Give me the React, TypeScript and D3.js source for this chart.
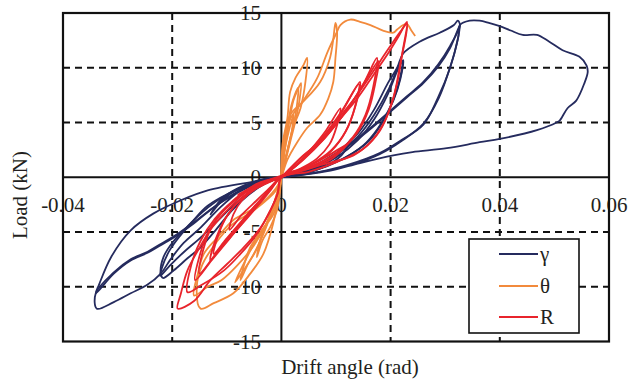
import React from "react";
import * as d3 from "d3";

type P = [number, number];

// ---- data (drift angle rad, load kN) ----
const xTicks = [-0.04, -0.02, 0, 0.02, 0.04, 0.06];
const xTickLabels = ["-0.04", "-0.02", "0", "0.02", "0.04", "0.06"];
const yTicks = [15, 10, 5, 0, -5, -10, -15];
const yTickLabels = ["15", "10", "5", "0", "-5", "-10", "-15"];
const xGrid = [-0.02, 0.02, 0.04];
const yGrid = [10, 5, -5, -10];
const seriesNames = ["γ", "θ", "R"];

// γ series loops
const gammaSmall: P[] = [[0,0],[0.004,0.4],[0.008,1.2],[0.011,2.4],[0.013,3.6],[0.011,2.0],[0.008,1.0],[0.004,0.3],[0,0],[-0.004,-0.4],[-0.008,-1.1],[-0.011,-2.2],[-0.013,-3.4],[-0.011,-2.0],[-0.008,-1.0],[-0.004,-0.3],[0,0]];
const gamma22: P[] = [[0,0],[0.005,0.6],[0.010,1.8],[0.014,3.4],[0.017,5.3],[0.0195,7.6],[0.0213,9.8],[0.0223,10.7],[0.0218,9.0],[0.0205,7.0],[0.0185,5.0],[0.016,3.3],[0.012,1.9],[0.007,0.8],[0.003,0.2],[0,0],
  [-0.004,-0.4],[-0.008,-1.1],[-0.0135,-2.6],[-0.0166,-4.2],[-0.0197,-5.8],[-0.0216,-7.3],[-0.0221,-8.8],[-0.0217,-9.2],[-0.0197,-8.5],[-0.0172,-7.4],[-0.0148,-6.4],[-0.012,-4.8],[-0.009,-3.0],[-0.006,-1.6],[-0.003,-0.6],[0,0]];
const gamma22b: P[] = [[0,0],[0.005,0.7],[0.010,2.0],[0.014,3.7],[0.017,5.7],[0.0197,8.1],[0.0215,10.2],[0.0221,10.5],[0.0214,8.4],[0.0198,6.3],[0.0176,4.4],[0.015,2.9],[0.011,1.6],[0.006,0.6],[0,0],
  [-0.005,-0.6],[-0.010,-1.6],[-0.0145,-3.2],[-0.0178,-4.9],[-0.0205,-6.7],[-0.0219,-8.3],[-0.0222,-9.0],[-0.0203,-8.0],[-0.0178,-6.8],[-0.015,-5.6],[-0.0115,-3.9],[-0.008,-2.2],[-0.004,-0.8],[0,0]];
const gammaEnv: P[] = [[0,0],[0.005,0.8],[0.010,2.2],[0.014,4.0],[0.017,6.2],[0.0195,8.6],[0.0212,10.0],[0.0223,11.3],[0.0254,12.4],[0.029,13.2],[0.0316,13.9],[0.0323,14.3],[0.0327,13.9],
  [0.0309,12.0],[0.0287,10.3],[0.026,8.7],[0.023,7.4],[0.020,6.1],[0.017,4.8],[0.013,3.2],[0.009,1.9],[0.005,0.8],[0,0],
  [-0.005,-0.4],[-0.0135,-1.2],[-0.0184,-2.1],[-0.0234,-3.3],[-0.0276,-4.85],[-0.0312,-7.3],[-0.0334,-9.8],[-0.034,-10.6],
  [-0.0307,-8.8],[-0.0276,-7.6],[-0.0245,-6.9],[-0.0221,-6.2],[-0.0197,-5.5],[-0.016,-4.2],[-0.012,-2.6],[-0.008,-1.3],[-0.004,-0.4],[0,0]];
const gammaCycle2: P[] = [[0,0],[0.006,0.4],[0.012,1.1],[0.018,2.2],[0.022,3.4],[0.026,4.8],[0.0287,7.3],[0.0309,10.0],[0.0323,12.6],[0.0327,13.9],
  [0.0309,11.8],[0.0287,10.1],[0.026,8.6],[0.023,7.3],[0.020,6.0],[0.017,4.7],[0.013,3.1],[0.009,1.8],[0.005,0.7],[0,0],
  [-0.004,-0.5],[-0.008,-1.4],[-0.012,-2.6],[-0.016,-4.1],[-0.0197,-5.4],[-0.0221,-6.1],[-0.0245,-6.8],[-0.0276,-7.5],[-0.0307,-8.7],[-0.034,-10.6],[-0.0338,-12.0],
  [-0.0307,-11.4],[-0.0276,-10.6],[-0.0245,-9.8],[-0.0221,-8.8],[-0.0203,-7.5],[-0.0179,-6.0],[-0.0148,-4.6],[-0.0111,-2.7],[-0.0075,-1.2],[-0.0044,-0.3],[0,0]];
const gammaFinal: P[] = [[0,0],[0.006,0.4],[0.012,1.0],[0.018,2.1],[0.022,3.3],[0.026,4.9],[0.0288,7.2],[0.031,10.2],[0.0324,12.8],[0.0327,13.9],[0.0345,14.3],[0.0363,14.3],[0.038,14.1],[0.040,13.8],[0.042,13.4],[0.0442,13.0],[0.0468,13.0],[0.049,12.4],[0.0515,11.6],[0.0546,11.0],[0.0559,10.2],[0.0561,9.6],[0.0555,8.6],[0.054,7.0],[0.0524,6.3],[0.051,5.2],[0.0504,5.0],[0.0468,4.3],[0.040,3.5],[0.0363,3.2],[0.0303,2.65],[0.024,2.3],[0.0205,2.0],[0.0144,1.3],[0.009,0.6],[0.0035,0.2],[0,0]];

// θ series loops
const thetaA: P[] = [[0,0],[0.0003,1.5],[0.0008,3.0],[0.0015,4.5],[0.0022,5.7],[0.0019,4.2],[0.0012,2.6],[0.0004,0.9],[0,0],[-0.0003,-1.5],[-0.0008,-3.0],[-0.002,-4.5],[-0.0035,-5.8],[-0.0045,-7.3],[-0.0038,-5.6],[-0.0024,-3.8],[-0.001,-1.8],[0,0]];
const thetaB: P[] = [[0,0],[0.0004,2.0],[0.0011,4.5],[0.0018,6.5],[0.0025,7.6],[0.0031,8.2],[0.0029,6.8],[0.0023,5.0],[0.0013,2.8],[0.0004,0.9],[0,0],[-0.0005,-1.8],[-0.0015,-3.4],[-0.0035,-4.8],[-0.0058,-6.5],[-0.0075,-9.4],[-0.0062,-8.0],[-0.0046,-6.6],[-0.003,-4.8],[-0.0013,-2.5],[0,0]];
const thetaB2: P[] = [[0,0],[0.0006,2.4],[0.0014,5.0],[0.0022,7.0],[0.0030,8.0],[0.0036,8.6],[0.0033,7.0],[0.0026,5.2],[0.0016,3.2],[0.0006,1.2],[0,0],[-0.0007,-2.0],[-0.0022,-3.8],[-0.0042,-5.3],[-0.0062,-7.2],[-0.0085,-9.6],[-0.0068,-8.4],[-0.005,-7.0],[-0.0034,-5.2],[-0.0016,-2.8],[0,0]];
const thetaC: P[] = [[0,0],[0.0002,3.0],[0.0011,5.4],[0.0016,7.8],[0.0026,9.1],[0.004,10.2],[0.0047,10.9],[0.0044,8.7],[0.0035,6.3],[0.0022,4.6],[0.0011,2.5],[0.0002,0.6],[0,0],[-0.001,-1.0],[-0.0045,-2.7],[-0.0088,-3.9],[-0.0117,-5.5],[-0.0142,-7.0],[-0.0153,-8.8],[-0.016,-10.8],[-0.0135,-10.0],[-0.011,-9.4],[-0.008,-8.0],[-0.005,-6.2],[-0.0025,-4.0],[-0.0008,-1.8],[0,0]];
const thetaD: P[] = [[0,0],[0.0003,2.5],[0.0016,5.7],[0.004,6.9],[0.0071,8.7],[0.0089,10.9],[0.0095,12.6],[0.0099,14.1],[0.0102,13.2],[0.0099,10.9],[0.0095,8.7],[0.0086,7.2],[0.0071,5.7],[0.0047,4.5],[0.0029,3.2],[0.0011,1.6],[0,0],[-0.001,-1.2],[-0.005,-3.0],[-0.009,-4.3],[-0.012,-6.0],[-0.0145,-8.0],[-0.0155,-10.0],[-0.0148,-12.0],[-0.0124,-11.5],[-0.0088,-10.6],[-0.0057,-8.8],[-0.0033,-7.0],[-0.0015,-4.2],[-0.0007,-2.1],[0,0]];
const thetaE: P[] = [[0,0],[0.0004,2.8],[0.0016,5.3],[0.004,7.0],[0.0065,9.0],[0.0085,11.5],[0.0102,13.3],[0.0108,13.9],[0.0126,14.4],[0.0144,14.2],[0.0163,13.9],[0.0186,13.4],[0.0205,13.2],[0.0212,13.5],[0.0223,13.9],[0.023,14.0],[0.0238,13.4],[0.0245,12.9]];

// R series loops
const rSmall: P[] = [[0,0],[0.004,0.8],[0.008,1.8],[0.012,3.0],[0.009,1.6],[0.005,0.8],[0.001,0.3],[-0.004,-0.6],[-0.008,-1.6],[-0.005,-0.9],[-0.002,-0.3],[0,0]];
const rA: P[] = [[0,0],[0.003,1.2],[0.0055,2.6],[0.0082,4.3],[0.0108,6.3],[0.0101,4.6],[0.0088,3.0],[0.0065,1.7],[0.0035,0.8],[0,0.1],[-0.002,-0.9],[-0.0045,-2.1],[-0.0072,-3.4],[-0.0095,-4.8],[-0.0088,-3.4],[-0.0072,-2.1],[-0.0045,-1.0],[-0.002,-0.4],[0,0]];
const rB: P[] = [[0,0],[0.0035,1.4],[0.007,3.2],[0.0105,5.5],[0.0144,8.7],[0.0135,6.4],[0.0118,4.2],[0.0092,2.5],[0.0055,1.2],[0.002,0.4],[0,0],[-0.002,-1.1],[-0.0048,-2.6],[-0.0078,-4.3],[-0.0102,-5.7],[-0.0124,-7.0],[-0.0115,-5.2],[-0.0098,-3.4],[-0.007,-1.8],[-0.004,-0.8],[0,0]];
const rB2: P[] = [[0,0],[0.004,1.7],[0.0075,3.6],[0.011,6.0],[0.0142,8.5],[0.0131,5.8],[0.0112,3.7],[0.0085,2.1],[0.005,1.0],[0,0],[-0.0025,-1.3],[-0.0055,-3.0],[-0.0085,-4.8],[-0.011,-6.3],[-0.013,-7.6],[-0.012,-5.6],[-0.0102,-3.7],[-0.0075,-2.0],[-0.004,-0.7],[0,0]];
const rC: P[] = [[0,0],[0.004,1.6],[0.008,3.6],[0.0118,6.0],[0.015,8.5],[0.0175,10.9],[0.0168,8.2],[0.0154,5.7],[0.013,3.6],[0.0095,2.0],[0.005,0.9],[0,0.1],[-0.002,-1.2],[-0.005,-3.0],[-0.0085,-5.0],[-0.012,-7.0],[-0.015,-8.8],[-0.0143,-6.6],[-0.0125,-4.3],[-0.0095,-2.5],[-0.006,-1.2],[-0.003,-0.4],[0,0]];
const rC2: P[] = [[0,0],[0.0045,1.9],[0.0088,4.1],[0.0125,6.5],[0.0155,8.9],[0.0178,10.6],[0.0172,8.6],[0.016,6.2],[0.0138,4.0],[0.0105,2.3],[0.006,1.0],[0,0],[-0.003,-1.6],[-0.0062,-3.6],[-0.0095,-5.6],[-0.0128,-7.6],[-0.0158,-9.4],[-0.015,-7.2],[-0.0132,-4.8],[-0.0103,-2.9],[-0.0068,-1.4],[-0.0032,-0.5],[0,0]];
const rD: P[] = [[0,0],[0.004,2.0],[0.0071,3.2],[0.0102,5.0],[0.0139,7.2],[0.0168,9.3],[0.0194,11.2],[0.0215,12.9],[0.023,14.2],[0.0222,11.5],[0.0212,8.6],[0.0198,6.2],[0.0181,4.3],[0.015,2.6],[0.0102,1.4],[0.005,0.5],[0,0],[-0.0007,-1.5],[-0.0022,-3.2],[-0.0045,-5.2],[-0.0075,-7.0],[-0.0105,-8.5],[-0.0145,-9.8],[-0.0172,-10.5],[-0.0165,-8.0],[-0.0148,-5.8],[-0.0122,-3.8],[-0.009,-2.2],[-0.0055,-0.9],[0,0]];
const rE: P[] = [[0,0],[0.0035,1.7],[0.0071,3.4],[0.0105,5.4],[0.014,7.6],[0.017,9.8],[0.0197,11.8],[0.0218,13.3],[0.023,14.0],[0.0217,10.2],[0.0205,7.2],[0.0186,4.8],[0.0163,3.2],[0.0132,2.0],[0.0071,1.1],[0.002,0.3],[0,0],[-0.0007,-1.5],[-0.002,-3.0],[-0.0038,-4.6],[-0.0069,-6.4],[-0.0099,-7.9],[-0.013,-9.4],[-0.016,-11.3],[-0.019,-12.0],[-0.0184,-10.6],[-0.0172,-8.5],[-0.0153,-6.7],[-0.013,-4.8],[-0.0099,-3.0],[-0.0069,-1.5],[-0.0045,-0.6],[0,0]];

const gammaLoops = [gammaSmall, gamma22, gamma22b, gammaEnv, gammaCycle2, gammaFinal];
const thetaLoops = [thetaA, thetaB, thetaB2, thetaC, thetaD, thetaE];
const rLoops = [rSmall, rA, rB, rB2, rC, rC2, rD, rE];

const COLORS = ["#252b5e", "#f28a3c", "#e8242c"];
const FONT = "'Liberation Serif', 'Times New Roman', serif";
const TXT = "#231f20";

export default function App() {
  const W = 628, H = 380;
  const L = 63, R = 609, T = 13, B = 341.5;
  const x = d3.scaleLinear().domain([-0.04, 0.06]).range([L, R]);
  const y = d3.scaleLinear().domain([-15, 15]).range([B, T]);
  const line = d3.line<P>().x(d => x(d[0])).y(d => y(d[1])).curve(d3.curveCatmullRom.alpha(0.5));
  const groups = [gammaLoops, thetaLoops, rLoops];
  const legX = 469, legY = 239, legW = 110, legH = 94;
  const legRows = [254, 286, 317];
  return (
    <svg width={W} height={H} style={{ position: "absolute", left: 0, top: 0, background: "#fff" }} fontFamily={FONT}>
      <rect x={0} y={0} width={W} height={H} fill="#fff" />
      {xTicks.map((t, i) => (
        <text key={"xt" + i} x={x(t)} y={212} fontSize={21} textAnchor="middle" fill={TXT}>{xTickLabels[i]}</text>
      ))}
      {yTicks.map((t, i) => (
        <text key={"yt" + i} x={261} y={y(t) + 7} fontSize={21} textAnchor="end" fill={TXT}>{yTickLabels[i]}</text>
      ))}
      {xGrid.map((g, i) => (
        <line key={"xg" + i} x1={x(g)} x2={x(g)} y1={T} y2={B} stroke="#111" strokeWidth={2} strokeDasharray="7,5" />
      ))}
      {yGrid.map((g, i) => (
        <line key={"yg" + i} x1={L} x2={R} y1={y(g)} y2={y(g)} stroke="#111" strokeWidth={2} strokeDasharray="7,5" />
      ))}
      <line x1={x(0)} x2={x(0)} y1={T} y2={B} stroke="#111" strokeWidth={2} />
      <line x1={L} x2={R} y1={y(0)} y2={y(0)} stroke="#111" strokeWidth={2} />
      {groups.map((loops, gi) => (
        <g key={"s" + gi} fill="none" stroke={COLORS[gi]} strokeWidth={1.8} strokeLinejoin="round">
          {loops.map((lp, li) => <path key={li} d={line(lp) || ""} />)}
        </g>
      ))}
      <rect x={L} y={T} width={R - L} height={B - T} fill="none" stroke="#111" strokeWidth={2.2} />
      <rect x={legX} y={legY} width={legW} height={legH} fill="#fff" stroke="#111" strokeWidth={1.6} />
      {legRows.map((ly, i) => (
        <g key={"lg" + i}>
          <line x1={499} x2={538} y1={ly} y2={ly} stroke={COLORS[i]} strokeWidth={2} />
          <text x={540} y={ly + 7} fontSize={21} fill={TXT}>{seriesNames[i]}</text>
        </g>
      ))}
      <text x={350} y={374} fontSize={21} textAnchor="middle" fill={TXT}>Drift angle (rad)</text>
      <text transform={`translate(27,195) rotate(-90)`} fontSize={21} textAnchor="middle" fill={TXT}>Load (kN)</text>
    </svg>
  );
}
